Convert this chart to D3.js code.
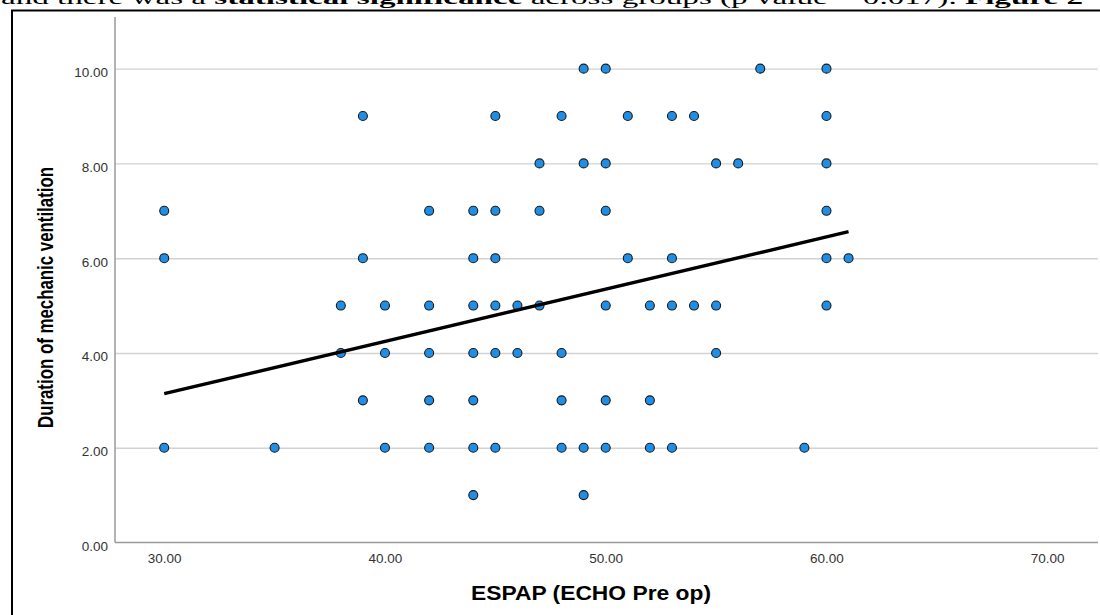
<!DOCTYPE html>
<html>
<head>
<meta charset="utf-8">
<script src="https://cdn.jsdelivr.net/npm/d3@7"></script>
<style>
  body { margin: 0; background: #fff; }
  svg { display: block; }
</style>
</head>
<body>
<div id="chart"></div>
<script>
// ESPAP (x) and duration of mechanic ventilation (y), one entry per point
const espap = [
  49, 50, 57, 60,
  39, 45, 48, 51, 53, 54, 60,
  47, 49, 50, 55, 56, 60,
  30, 42, 44, 45, 47, 50, 60,
  30, 39, 44, 45, 51, 53, 60, 61,
  38, 40, 42, 44, 45, 46, 47, 50, 52, 53, 54, 55, 60,
  38, 40, 42, 44, 45, 46, 48, 55,
  39, 42, 44, 48, 50, 52,
  30, 35, 40, 42, 44, 45, 48, 49, 50, 52, 53, 59,
  44, 49
];
const duration = [
  10, 10, 10, 10,
  9, 9, 9, 9, 9, 9, 9,
  8, 8, 8, 8, 8, 8,
  7, 7, 7, 7, 7, 7, 7,
  6, 6, 6, 6, 6, 6, 6, 6,
  5, 5, 5, 5, 5, 5, 5, 5, 5, 5, 5, 5, 5,
  4, 4, 4, 4, 4, 4, 4, 4,
  3, 3, 3, 3, 3, 3,
  2, 2, 2, 2, 2, 2, 2, 2, 2, 2, 2, 2,
  1, 1
];

// fit line ends
const fitX = [30, 61];
const fitY = [3.14, 6.56];

const xTicks = [30, 40, 50, 60, 70];
const yTicks = [0, 2, 4, 6, 8, 10];

const points = espap.map((v, i) => ({ x: v, y: duration[i] }));

const width = 1100;
const height = 615;
const plotLeft = 115, plotRight = 1098, plotTop = 17, plotBottom = 542.5;

const svg = d3.select("#chart")
  .append("svg")
  .attr("width", width)
  .attr("height", height);

// cut-off line of text above the figure
const caption = svg.append("text")
  .attr("x", 1)
  .attr("y", 4)
  .attr("font-family", "Liberation Serif, Times New Roman, serif")
  .attr("font-size", 19)
  .attr("fill", "#000")
  .attr("textLength", 1082)
  .attr("lengthAdjust", "spacingAndGlyphs");
caption.append("tspan").text("and there was a ");
caption.append("tspan").attr("font-weight", "bold").text("statistical significance");
caption.append("tspan").text(" across groups (p value = 0.017). ");
caption.append("tspan").attr("font-weight", "bold").text("Figure 2");

// figure frame
svg.append("rect")
  .attr("x", 12)
  .attr("y", 10.5)
  .attr("width", 1100)
  .attr("height", 700)
  .attr("fill", "#fff")
  .attr("stroke", "#000")
  .attr("stroke-width", 2);

const x = d3.scaleLinear().domain([27.77, 72.3]).range([plotLeft, plotRight]);
const y = d3.scaleLinear().domain([0, 11.09]).range([plotBottom, plotTop]);

// y axis with grid lines
const yAxis = svg.append("g")
  .attr("transform", `translate(${plotLeft},0)`)
  .call(d3.axisLeft(y)
    .tickValues(yTicks)
    .tickFormat(d3.format(".2f"))
    .tickSizeInner(-(plotRight - plotLeft))
    .tickSizeOuter(0)
    .tickPadding(7));
yAxis.select(".domain").remove();
yAxis.selectAll(".tick line")
  .attr("stroke", d => d === 0 ? "none" : "#d2d2d2")
  .attr("stroke-width", 1.4);
yAxis.selectAll(".tick text")
  .attr("dy", "0.58em")
  .attr("fill", "#333")
  .attr("font-family", "Liberation Sans, Arial, sans-serif")
  .attr("font-size", 13.5);

// x axis
const xAxis = svg.append("g")
  .attr("transform", `translate(0,${plotBottom})`)
  .call(d3.axisBottom(x)
    .tickValues(xTicks)
    .tickFormat(d3.format(".2f"))
    .tickSize(0)
    .tickPadding(11));
xAxis.select(".domain").remove();
xAxis.selectAll(".tick text")
  .attr("fill", "#333")
  .attr("font-family", "Liberation Sans, Arial, sans-serif")
  .attr("font-size", 13.5);

// axis lines
svg.append("line")
  .attr("x1", plotLeft).attr("x2", plotLeft)
  .attr("y1", plotTop).attr("y2", plotBottom)
  .attr("stroke", "#9a9a9a")
  .attr("stroke-width", 1.5);
svg.append("line")
  .attr("x1", plotLeft).attr("x2", plotRight)
  .attr("y1", plotBottom).attr("y2", plotBottom)
  .attr("stroke", "#9a9a9a")
  .attr("stroke-width", 1.5);

// points
svg.append("g")
  .selectAll("circle")
  .data(points)
  .enter()
  .append("circle")
  .attr("cx", d => x(d.x))
  .attr("cy", d => y(d.y))
  .attr("r", 4.5)
  .attr("fill", "#1f8ee6")
  .attr("stroke", "#1a1a1a")
  .attr("stroke-width", 1.1);

// fit line
svg.append("path")
  .datum(fitX.map((v, i) => [v, fitY[i]]))
  .attr("fill", "none")
  .attr("stroke", "#000")
  .attr("stroke-width", 3.4)
  .attr("d", d3.line().x(d => x(d[0])).y(d => y(d[1])));

// axis titles
svg.append("text")
  .attr("x", 591)
  .attr("y", 600)
  .attr("text-anchor", "middle")
  .attr("font-family", "Liberation Sans, Arial, sans-serif")
  .attr("font-size", 21)
  .attr("font-weight", "bold")
  .attr("fill", "#000")
  .attr("textLength", 240)
  .attr("lengthAdjust", "spacingAndGlyphs")
  .text("ESPAP (ECHO Pre op)");

svg.append("text")
  .attr("transform", "translate(53,297.5) rotate(-90)")
  .attr("text-anchor", "middle")
  .attr("font-family", "Liberation Sans, Arial, sans-serif")
  .attr("font-size", 22)
  .attr("font-weight", "bold")
  .attr("fill", "#000")
  .attr("textLength", 261)
  .attr("lengthAdjust", "spacingAndGlyphs")
  .text("Duration of mechanic ventilation");
</script>
</body>
</html>
